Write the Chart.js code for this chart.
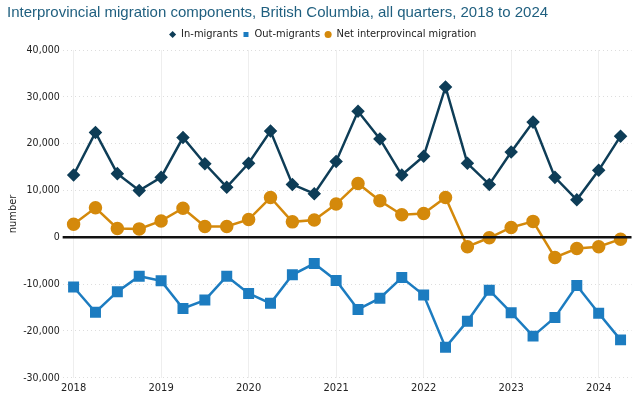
<!DOCTYPE html>
<html>
<head>
<meta charset="utf-8">
<script src="https://cdn.jsdelivr.net/npm/chart.js@4"></script>
<style>
  html, body { margin: 0; padding: 0; background: #fff; }
  #wrap { width: 640px; height: 404px; }
</style>
</head>
<body>
<div id="wrap"><canvas id="chart"></canvas></div>
<script>
const years = ['2018', '2019', '2020', '2021', '2022', '2023', '2024'];
const quarters = [];
years.forEach(y => { for (let q = 1; q <= 4; q++) quarters.push(y + ' Q' + q); });
quarters.length = 26;

const inMigrants = [
  13300, 22400, 13600, 10000,
  12800, 21300, 15700, 10700,
  15800, 22700, 11300, 9300,
  16200, 26900, 21000, 13300,
  17300, 32100, 15800, 11300,
  18200, 24600, 12800, 8000,
  14300, 21600
];
const outMigrants = [
  -10600, -16000, -11600, -8300,
  -9300, -15200, -13400, -8300,
  -12000, -14100, -8000, -5600,
  -9200, -15400, -13000, -8600,
  -12300, -23500, -17900, -11300,
  -16100, -21100, -17100, -10300,
  -16200, -21900
];
const netMigration = [
  2800, 6300, 1900, 1800,
  3500, 6200, 2300, 2300,
  3800, 8500, 3300, 3700,
  7100, 11500, 7800, 4800,
  5100, 8500, -2000, -100,
  2100, 3400, -4300, -2400,
  -2000, -400
];

const tickFont = { family: 'DejaVu Sans Condensed', size: 11 };
const yTickFont = { family: 'DejaVu Sans Condensed', size: 10.5 };

// heavy black line at zero, placed through the y scale
const zeroLine = {
  id: 'zeroLine',
  afterDatasetsDraw(chart) {
    const { ctx, chartArea, scales } = chart;
    const y = scales.y.getPixelForValue(0);
    ctx.save();
    ctx.strokeStyle = '#111';
    ctx.lineWidth = 2.5;
    ctx.beginPath();
    ctx.moveTo(chartArea.left, y);
    ctx.lineTo(chartArea.right, y);
    ctx.stroke();
    ctx.restore();
  }
};

new Chart(document.getElementById('chart'), {
  type: 'line',
  data: {
    labels: quarters,
    datasets: [
      {
        label: 'In-migrants',
        data: inMigrants,
        borderColor: '#0e3d57',
        backgroundColor: '#0e3d57',
        borderWidth: 2.5,
        pointStyle: 'rectRot',
        pointRadius: 5,
        tension: 0,
        order: 1
      },
      {
        label: 'Out-migrants',
        data: outMigrants,
        borderColor: '#1c7cc0',
        backgroundColor: '#1c7cc0',
        borderWidth: 2.5,
        pointStyle: 'rect',
        pointRadius: 6,
        tension: 0,
        order: 2
      },
      {
        label: 'Net interprovincal migration',
        data: netMigration,
        borderColor: '#d4890b',
        backgroundColor: '#d4890b',
        borderWidth: 2.5,
        pointStyle: 'circle',
        pointRadius: 5.5,
        tension: 0,
        order: 3
      }
    ]
  },
  options: {
    responsive: true,
    maintainAspectRatio: false,
    animation: false,
    layout: { padding: { left: 7, right: 1, top: 2, bottom: 5 } },
    plugins: {
      title: {
        display: true,
        text: 'Interprovincial migration components, British Columbia, all quarters, 2018 to 2024',
        align: 'start',
        color: '#1f5f7f',
        font: { family: 'Liberation Sans', size: 15, weight: 'normal' },
        padding: { top: 2, bottom: 2 }
      },
      legend: {
        labels: {
          usePointStyle: true,
          boxWidth: 6,
          boxHeight: 5,
          padding: 5,
          color: '#222',
          font: { family: 'DejaVu Sans Condensed', size: 11 },
          generateLabels: chart => Chart.defaults.plugins.legend.labels.generateLabels(chart)
            .map(l => Object.assign(l, { lineWidth: 0 }))
        }
      },
      tooltip: { enabled: false }
    },
    scales: {
      x: {
        offset: true,
        grid: {
          offset: false,
          color: c => (c.index % 4 === 0 ? '#eeeeee' : 'rgba(0,0,0,0)'),
          drawTicks: false
        },
        border: { display: false },
        ticks: {
          autoSkip: false,
          maxRotation: 0,
          color: '#222',
          font: tickFont,
          padding: 4,
          callback: (v, i) => (i % 4 === 0 ? years[i / 4] : '')
        }
      },
      y: {
        min: -30000,
        max: 40000,
        grid: { color: '#dddddd', drawTicks: false },
        border: { display: false, dash: [1, 3] },
        title: {
          display: true,
          text: 'number',
          color: '#222',
          font: { family: 'DejaVu Sans Condensed', size: 11 },
          padding: 0
        },
        ticks: {
          stepSize: 10000,
          color: '#222',
          font: yTickFont,
          padding: 3,
          callback: v => v.toLocaleString('en-US')
        }
      }
    }
  },
  plugins: [zeroLine]
});
</script>
</body>
</html>
